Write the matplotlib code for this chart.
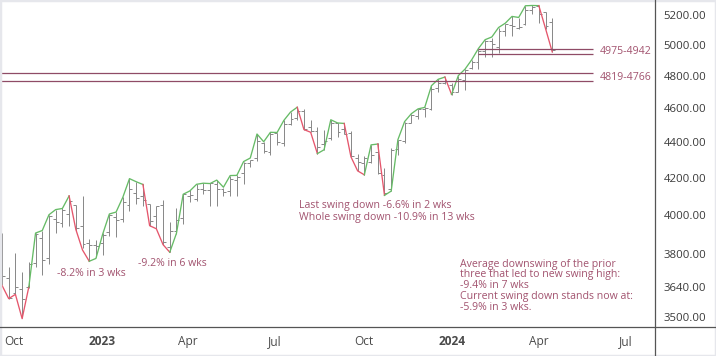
import matplotlib as mpl
mpl.use('Agg')
import matplotlib.pyplot as plt
import matplotlib.dates as mdates
from matplotlib.lines import Line2D
from matplotlib.patches import Rectangle
import datetime

# weekly bars, S&P 500, week of 2022-09-19 .. week of 2024-04-15
first_week = datetime.date(2022, 9, 19)
opens = [3849, 3682, 3609, 3630, 3638, 3755, 3881, 3781, 3977, 3956, 4005, 4052, 3940, 3853, 3843,
         3853, 3911, 3990, 3979, 4053, 4119, 4100, 4060, 3992, 4055, 3835, 3917, 3982, 4102, 4085,
         4137, 4131, 4166, 4136, 4126, 4190, 4226, 4283, 4308, 4396, 4344, 4451, 4394, 4505, 4543,
         4585, 4492, 4464, 4389, 4426, 4510, 4480, 4453, 4310, 4284, 4289, 4343, 4217, 4140, 4364,
         4407, 4512, 4555, 4594, 4594, 4726, 4758, 4745, 4703, 4772, 4853, 4888, 4957, 5026, 4989,
         5094, 5131, 5111, 5138, 5234, 5258, 5218, 5149]
highs = [3906, 3736, 3806, 3713, 3762, 3906, 3919, 4001, 4028, 4034, 4101, 4052, 4101, 3876, 3873,
         3906, 4003, 4015, 4095, 4195, 4176, 4163, 4060, 4049, 4079, 3965, 4039, 4110, 4133, 4164,
         4170, 4170, 4187, 4143, 4212, 4213, 4290, 4299, 4448, 4403, 4458, 4456, 4528, 4578, 4607,
         4594, 4531, 4491, 4471, 4532, 4514, 4511, 4466, 4333, 4320, 4385, 4394, 4256, 4366, 4415,
         4521, 4568, 4597, 4609, 4739, 4779, 4793, 4755, 4802, 4843, 4903, 4976, 5030, 5048, 5111,
         5140, 5190, 5179, 5261, 5265, 5264, 5222, 5176]
lows = [3647, 3584, 3604, 3492, 3633, 3738, 3698, 3750, 3907, 3938, 3940, 3919, 3828, 3764, 3784,
        3794, 3891, 3886, 3965, 4020, 4060, 4047, 3944, 3928, 3847, 3809, 3900, 3951, 4069, 4073,
        4114, 4049, 4048, 4099, 4103, 4103, 4167, 4260, 4292, 4341, 4329, 4385, 4378, 4499, 4528,
        4474, 4458, 4335, 4357, 4416, 4430, 4447, 4317, 4238, 4216, 4284, 4223, 4104, 4127, 4329,
        4393, 4510, 4537, 4546, 4593, 4700, 4751, 4682, 4700, 4714, 4845, 4845, 4920, 4920, 4946,
        5058, 5057, 5105, 5131, 5204, 5146, 5108, 4954]
closes = [3693, 3586, 3640, 3583, 3753, 3901, 3771, 3993, 3965, 4026, 4072, 3934, 3852, 3845, 3840,
          3895, 3999, 3972, 4071, 4136, 4090, 4079, 3970, 4046, 3862, 3917, 3971, 4109, 4105, 4138,
          4133, 4169, 4136, 4124, 4192, 4205, 4282, 4299, 4410, 4348, 4450, 4399, 4505, 4536, 4582,
          4478, 4464, 4370, 4406, 4515, 4457, 4450, 4320, 4288, 4308, 4327, 4224, 4117, 4358, 4415,
          4514, 4559, 4595, 4604, 4719, 4755, 4770, 4697, 4784, 4840, 4891, 4959, 5027, 5006, 5089,
          5137, 5124, 5117, 5234, 5254, 5204, 5123, 4967]
# swing line value at each bar
swing = [3647, 3584, 3604, 3491, 3640, 3906, 3919, 4001, 4028, 4034, 4101, 3925, 3820, 3764, 3778,
         3900, 4005, 4015, 4093, 4195, 4178, 4163, 3944, 3928, 3847, 3809, 3905, 4110, 4128, 4164,
         4170, 4168, 4187, 4148, 4212, 4213, 4290, 4310, 4448, 4403, 4458, 4457, 4528, 4578, 4607,
         4474, 4458, 4335, 4357, 4532, 4513, 4510, 4317, 4238, 4216, 4385, 4390, 4104, 4127, 4415,
         4521, 4568, 4597, 4606, 4739, 4779, 4793, 4685, 4802, 4843, 4903, 4976, 5034, 5052, 5115,
         5144, 5190, 5183, 5263, 5265, 5264, 5108, 4954]
# down swings (first bar index, last bar index)
red_swings = [(0, 4), (10, 13), (21, 25), (44, 47), (51, 54), (56, 57), (66, 67), (80, 82)]

zone_upper = [4975, 4942]
zone_lower = [4819, 4766]
zone_labels = ['4975-4942', '4819-4766']

yticks = [3500, 3640, 3800, 4000, 4200, 4400, 4600, 4800, 5000, 5200]
xtick_dates = [datetime.date(2022, 10, 1), datetime.date(2023, 1, 1), datetime.date(2023, 4, 1),
               datetime.date(2023, 7, 1), datetime.date(2023, 10, 1), datetime.date(2024, 1, 1),
               datetime.date(2024, 4, 1), datetime.date(2024, 7, 1)]
xtick_labels = ['Oct', '2023', 'Apr', 'Jul', 'Oct', '2024', 'Apr', 'Jul']

note_82 = '-8.2% in 3 wks'
note_92 = '-9.2% in 6 wks'
note_mid = 'Last swing down -6.6% in 2 wks\nWhole swing down -10.9% in 13 wks'
note_avg = ('Average downswing of the prior\nthree that led to new swing high:\n-9.4% in 7 wks\n'
            'Current swing down stands now at:\n-5.9% in 3 wks.')

#########################
# plotting
plt.rcParams['font.family'] = ['Open Sans', 'DejaVu Sans']

W, H = 716, 356
fig = plt.figure(figsize=(W / 100, H / 100), dpi=100)
ax = fig.add_axes([0, 29 / H, 654 / W, 327 / H])

n = len(closes)
x = [mdates.date2num(first_week + datetime.timedelta(weeks=i)) for i in range(n)]
px_day = 0.9586   # horizontal scale, pixels per day
left = x[0] - 2 / px_day

bar_col = '#8a8a8a'
ax.vlines(x, lows, highs, color=bar_col, lw=0.72)
ax.hlines(opens, [v - 3 for v in x], x, color=bar_col, lw=0.72)
ax.hlines(closes, x, [v + 3 for v in x], color=bar_col, lw=0.72)

seg_col = ['g'] * (n - 1)
for a, b in red_swings:
    for i in range(a, b):
        seg_col[i] = 'r'
start = 0
for i in range(1, n):
    if i == n - 1 or seg_col[i] != seg_col[start]:
        c = '#e5566c' if seg_col[start] == 'r' else '#66bb66'
        ax.plot(x[start:i + 1], swing[start:i + 1], color=c, lw=0.95, solid_joinstyle='round')
        start = i

zone_col = '#8f4b66'
txt_col = '#a2536f'
zone_end = left + 593 / px_day
for v in zone_lower:
    ax.hlines(v, left, zone_end, color=zone_col, lw=0.9)
for v in zone_upper:
    ax.hlines(v, x[71], zone_end, color=zone_col, lw=0.9)
for pair, lab in zip([zone_upper, zone_lower], zone_labels):
    ax.text(651 / 654, (pair[0] * pair[1]) ** 0.5, lab, transform=ax.get_yaxis_transform(),
            ha='right', va='center', color=txt_col, fontsize=7.6)

ax.text(57 / 654, 1 - 273 / 327, note_82, transform=ax.transAxes, ha='left', va='center',
        color=txt_col, fontsize=7.6)
ax.text(138 / 654, 1 - 264 / 327, note_92, transform=ax.transAxes, ha='left', va='center',
        color=txt_col, fontsize=7.6)
ax.text(299 / 654, 1 - 211.5 / 327, note_mid, transform=ax.transAxes, ha='left', va='center',
        color=txt_col, fontsize=7.6, linespacing=1.05)
ax.text(460 / 654, 1 - 286 / 327, note_avg, transform=ax.transAxes, ha='left', va='center',
        color=txt_col, fontsize=7.6, linespacing=1.0)

ax.set_yscale('log')
ax.set_ylim(3453, 5303)
ax.set_xlim(left, left + 654 / px_day)
ax.yaxis.tick_right()
ax.set_yticks(yticks)
ax.set_yticklabels(['%.2f' % v for v in yticks])
ax.yaxis.set_minor_locator(mpl.ticker.NullLocator())
ax.set_xticks([mdates.date2num(d) for d in xtick_dates])
ax.set_xticklabels(xtick_labels)
for lab in ax.get_xticklabels():
    if lab.get_text().isdigit():
        lab.set_fontweight('bold')
ax.tick_params(axis='y', length=0, pad=7, labelsize=8.2, labelcolor='#3a3a3a')
ax.tick_params(axis='x', length=0, pad=6, labelsize=8.6, labelcolor='#4a4a4a')
for s in ax.spines.values():
    s.set_visible(False)

# price / time axis separators and outer frame
fig.add_artist(Line2D([654.5 / W, 654.5 / W], [0, 1], color='#555555', lw=0.9))
fig.add_artist(Line2D([0, 1], [29 / H, 29 / H], color='#555555', lw=0.9))
fig.add_artist(Rectangle((0, 0), 1, 1, transform=fig.transFigure, fill=False,
                         edgecolor='#e6e7ec', lw=2.5))

fig.savefig('out.png', dpi=100)
